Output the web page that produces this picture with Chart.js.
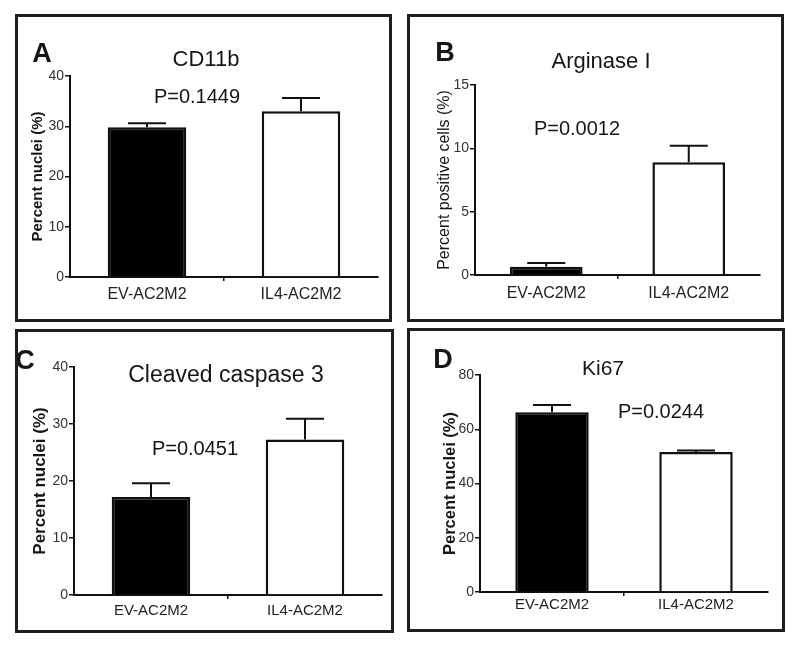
<!DOCTYPE html>
<html>
<head>
<meta charset="utf-8">
<title>Four panels</title>
<script src="https://cdn.jsdelivr.net/npm/chart.js@4.4.1/dist/chart.umd.min.js"></script>
<style>
  html, body { margin: 0; padding: 0; background: #fff; }
  body { width: 800px; height: 650px; position: relative; overflow: hidden; }
  .panel { position: absolute; box-sizing: border-box; border: 3px solid #1e1e1e; background: #fff; }
  .panel canvas { display: block; }
</style>
</head>
<body>
<div class="panel" id="boxA"><canvas id="chartA"></canvas></div>
<div class="panel" id="boxB"><canvas id="chartB"></canvas></div>
<div class="panel" id="boxC"><canvas id="chartC"></canvas></div>
<div class="panel" id="boxD"><canvas id="chartD"></canvas></div>
<script>
// ===== DATA =====
const categories = ["EV-AC2M2", "IL4-AC2M2"];

const cd11bValues = [29.8, 33.0];
const cd11bErrors = [0.8, 2.6];
const cd11bTicks = [0, 10, 20, 30, 40];

const arginaseValues = [0.65, 8.9];
const arginaseErrors = [0.3, 1.3];
const arginaseTicks = [0, 5, 10, 15];

const caspaseValues = [17.2, 27.3];
const caspaseErrors = [2.4, 3.6];
const caspaseTicks = [0, 10, 20, 30, 40];

const ki67Values = [66.3, 51.6];
const ki67Errors = [2.6, 0.6];
const ki67Ticks = [0, 20, 40, 60, 80];

// ===== STYLE / LAYOUT (page px) =====
const FONT = '"Liberation Sans", Arial, Helvetica, sans-serif';
const BAR_COLORS = ["#000000", "#ffffff"];

const panels = [
  {
    key: "A", values: cd11bValues, errors: cd11bErrors, ticks: cd11bTicks,
    box: [15, 14, 377, 308], plot: [70, 76, 378, 277],
    yTitle: "Percent nuclei (%)", yTitleX: 38, yTitleSize: 15, yTitleBold: true,
    xFont: 16, xPad: 4,
    letter: ["A", 42, 55], title: ["CD11b", 206, 60, 22], pval: ["P=0.1449", 197, 97, 20],
  },
  {
    key: "B", values: arginaseValues, errors: arginaseErrors, ticks: arginaseTicks,
    box: [407, 14, 377, 308], plot: [475, 85, 760, 275],
    yTitle: "Percent positive cells (%)", yTitleX: 445, yTitleSize: 16, yTitleBold: false,
    xFont: 16, xPad: 5,
    letter: ["B", 445, 54], title: ["Arginase I", 601, 62, 22], pval: ["P=0.0012", 577, 129, 20],
  },
  {
    key: "C", values: caspaseValues, errors: caspaseErrors, ticks: caspaseTicks,
    box: [15, 329, 379, 304], plot: [74, 367, 382, 595],
    yTitle: "Percent nuclei (%)", yTitleX: 40, yTitleSize: 17, yTitleBold: true,
    xFont: 15, xPad: 3,
    letter: ["C", 25, 362], title: ["Cleaved caspase 3", 226, 376, 23], pval: ["P=0.0451", 195, 449, 20],
  },
  {
    key: "D", values: ki67Values, errors: ki67Errors, ticks: ki67Ticks,
    box: [407, 328, 378, 304], plot: [480, 375, 768, 592],
    yTitle: "Percent nuclei (%)", yTitleX: 450, yTitleSize: 16.5, yTitleBold: true,
    xFont: 15, xPad: 0,
    letter: ["D", 443, 361], title: ["Ki67", 603, 369, 21], pval: ["P=0.0244", 661, 412, 20],
  },
];

// ===== PLUGINS =====
const errorBarPlugin = {
  id: "errorBars",
  afterDatasetsDraw(chart, args, opts) {
    const ctx = chart.ctx;
    const meta = chart.getDatasetMeta(0);
    const yScale = chart.scales.y;
    const values = chart.data.datasets[0].data;
    ctx.save();
    ctx.strokeStyle = "#111";
    ctx.lineWidth = 2;
    meta.data.forEach((bar, i) => {
      const err = opts.errors[i];
      if (!err) return;
      const yTop = yScale.getPixelForValue(values[i] + err);
      ctx.beginPath();
      ctx.moveTo(bar.x, bar.y);
      ctx.lineTo(bar.x, yTop);
      ctx.moveTo(bar.x - opts.cap, yTop);
      ctx.lineTo(bar.x + opts.cap, yTop);
      ctx.stroke();
    });
    ctx.restore();
  },
};

const panelTextPlugin = {
  id: "panelText",
  afterDraw(chart, args, opts) {
    const ctx = chart.ctx;
    ctx.save();
    ctx.fillStyle = "#161616";
    ctx.textAlign = "center";
    ctx.textBaseline = "middle";
    opts.items.forEach((it) => {
      ctx.font = it.font;
      ctx.fillText(it.text, it.x - opts.ox, it.y - opts.oy);
    });
    ctx.restore();
  },
};

// ===== BUILD CHARTS =====
panels.forEach((p) => {
  const [bx, by, bw, bh] = p.box;
  const [pl, pt, pr, pb] = p.plot;
  const box = document.getElementById("box" + p.key);
  box.style.left = bx + "px";
  box.style.top = by + "px";
  box.style.width = bw + "px";
  box.style.height = bh + "px";

  const ox = bx + 3;
  const oy = by + 3;
  const cw = bw - 6;
  const ch = bh - 6;
  const canvas = document.getElementById("chart" + p.key);
  canvas.width = cw;
  canvas.height = ch;

  const xH = 30;
  const yLeft = p.yTitleX - p.yTitleSize / 2;
  const yW = pl - yLeft;
  const padding = {
    left: yLeft - ox,
    top: pt - oy,
    right: cw - (pr - ox),
    bottom: ch - xH - (pb - oy),
  };

  new Chart(canvas, {
    type: "bar",
    data: {
      labels: categories,
      datasets: [
        {
          data: p.values,
          backgroundColor: BAR_COLORS,
          borderColor: "#111",
          borderWidth: 2.5,
          barPercentage: 0.51,
          categoryPercentage: 1,
        },
      ],
    },
    options: {
      responsive: false,
      animation: false,
      layout: { padding: padding },
      plugins: {
        legend: { display: false },
        tooltip: { enabled: false },
        errorBars: { errors: p.errors, cap: 19 },
        panelText: {
          ox: ox,
          oy: oy,
          items: [
            { text: p.letter[0], x: p.letter[1], y: p.letter[2], font: "bold 27px " + FONT },
            { text: p.title[0], x: p.title[1], y: p.title[2], font: p.title[3] + "px " + FONT },
            { text: p.pval[0], x: p.pval[1], y: p.pval[2], font: p.pval[3] + "px " + FONT },
          ],
        },
      },
      scales: {
        x: {
          grid: {
            display: true,
            drawOnChartArea: false,
            drawTicks: true,
            tickLength: 4,
            lineWidth: 1.5,
            color: (c) => (c.index === 1 ? "#111" : "rgba(0,0,0,0)"),
          },
          border: { display: true, color: "#111", width: 2 },
          ticks: {
            color: "#222",
            padding: p.xPad,
            font: { family: FONT, size: p.xFont },
          },
          afterFit: (s) => { s.height = xH; },
        },
        y: {
          min: p.ticks[0],
          max: p.ticks[p.ticks.length - 1],
          afterBuildTicks: (s) => { s.ticks = p.ticks.map((v) => ({ value: v })); },
          grid: {
            display: true,
            drawOnChartArea: false,
            drawTicks: true,
            tickLength: 5,
            lineWidth: 1.5,
            color: "#111",
          },
          border: { display: true, color: "#111", width: 2 },
          ticks: {
            color: "#333",
            padding: 1,
            font: { family: FONT, size: 14 },
          },
          title: {
            display: true,
            text: p.yTitle,
            color: "#161616",
            padding: 0,
            font: {
              family: FONT,
              size: p.yTitleSize,
              weight: p.yTitleBold ? "bold" : "normal",
              lineHeight: 1,
            },
          },
          afterFit: (s) => { s.width = yW; },
        },
      },
    },
    plugins: [errorBarPlugin, panelTextPlugin],
  });
});
</script>
</body>
</html>
